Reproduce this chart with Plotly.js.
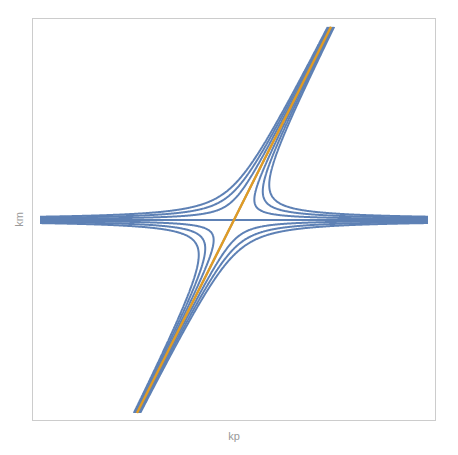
<!DOCTYPE html>
<html>
<head>
<meta charset="utf-8">
<script src="https://cdn.plot.ly/plotly-3.0.1.min.js"></script>
<style>
  body { margin: 0; background: #fff; }
  #plot { width: 458px; height: 455px; }
</style>
</head>
<body>
<div id="plot"></div>
<script>
// contour levels of km*(km - slope*kp)
let levels = [-0.033, -0.022, -0.011, 0, 0.011, 0.022, 0.033]
let slope = 2
let kpRange = [-1, 1]
let kmRange = [-1, 1]
let nGrid = 401

// orange asymptote line km = slope*kp
let lineKp = [-0.5, 0.5]
let lineKm = [-1, 1]

let kp = []
let km = []
for (let i = 0; i < nGrid; i++) {
  kp.push(kpRange[0] + (kpRange[1] - kpRange[0]) * i / (nGrid - 1));
  km.push(kmRange[0] + (kmRange[1] - kmRange[0]) * i / (nGrid - 1));
}
let z = []
for (let j = 0; j < nGrid; j++) {
  let row = []
  for (let i = 0; i < nGrid; i++) {
    row.push(km[j] * (km[j] - slope * kp[i]));
  }
  z.push(row);
}

let blue = "#5E81B5"
let orange = "#E19C24"

let trace1 = {
  x: kp,
  y: km,
  z: z,
  type: "contour",
  showscale: false,
  contours: {
    coloring: "none",
    start: levels[0],
    end: levels[levels.length - 1],
    size: levels[1] - levels[0]
  },
  line: { color: blue, width: 2, smoothing: 1 },
  hoverinfo: "skip"
};

let trace2 = {
  x: lineKp,
  y: lineKm,
  type: "scatter",
  mode: "lines",
  line: { color: orange, width: 2.4 },
  hoverinfo: "skip"
};

let axisStyle = {
  showgrid: false,
  zeroline: false,
  showticklabels: false,
  ticks: "",
  showline: true,
  mirror: true,
  linecolor: "#cccccc",
  linewidth: 1
}

let titleFont = { family: "Liberation Sans, Arial, sans-serif", size: 11, color: "#999999" }

let layout = {
  width: 458,
  height: 455,
  showlegend: false,
  paper_bgcolor: "#fff",
  plot_bgcolor: "#fff",
  margin: { l: 33, r: 23, t: 19, b: 35 },
  xaxis: Object.assign({}, axisStyle, {
    range: [-1.036, 1.036],
    title: { text: "kp", font: titleFont, standoff: 12 }
  }),
  yaxis: Object.assign({}, axisStyle, {
    range: [-1.036, 1.04],
    title: { text: "km", font: titleFont, standoff: 6 }
  })
};

Plotly.newPlot("plot", [trace1, trace2], layout, { staticPlot: true });
</script>
</body>
</html>
